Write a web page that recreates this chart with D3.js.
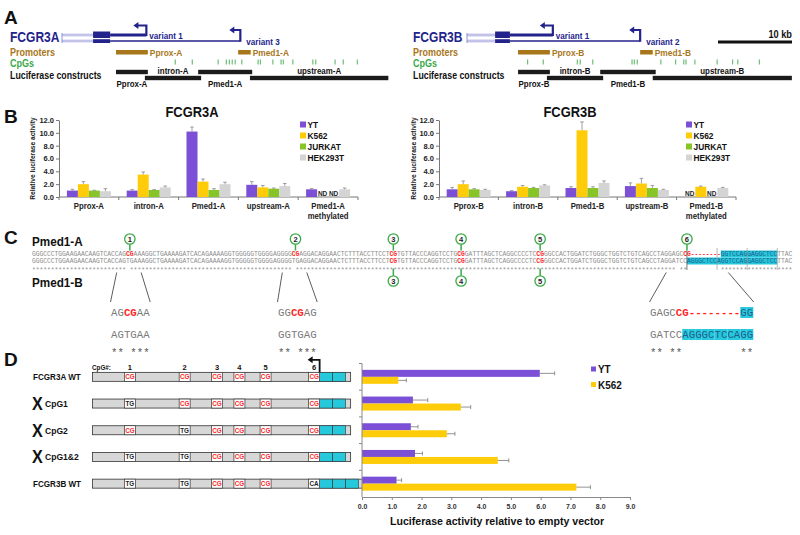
<!DOCTYPE html>
<html><head><meta charset="utf-8">
<script src="https://cdn.jsdelivr.net/npm/d3@7"></script>
<style>
body{margin:0;background:#fff}
svg{display:block}
text{font-family:"Liberation Sans",Arial,sans-serif}
.mono{font-family:"Liberation Mono","Courier New",monospace}
</style>
</head><body>
<svg id="c" width="800" height="535"></svg>
<script>
// ================= DATA =================
// Panel A (genomic positions in kb from the left end of each gene drawing)
const geneNames = ["FCGR3A", "FCGR3B"];
const exonKbA = [4.2, 6.5], exonKbB = [3.8, 5.8];
const tssKbA = [11.4, 24.1], tssKbB = [11.6, 23.4];
const variantNamesA = ["variant 1", "variant 3"], variantNamesB = ["variant 1", "variant 2"];
const promoterNamesA = ["Pprox-A", "Pmed1-A"], promoterNamesB = ["Pprox-B", "Pmed1-B"];
const promoterKbA = [[7.3, 11.6], [23.8, 25.5]], promoterKbB = [[6.9, 11.2], [23.4, 25.1]];
const cpgKbA = [15.3, 17.6, 21.1, 22.2, 22.6, 23.0, 23.4, 24.3, 26.5, 26.8, 28.5, 29.6, 29.9, 31.2, 33.9, 34.3, 36.9, 38.0, 39.9];
const cpgKbB = [8.2, 10.3, 14.9, 15.3, 17.0, 22.3, 22.6, 23.0, 26.2, 28.2, 29.3, 29.6, 30.8, 33.8, 35.9, 36.6, 39.5];
const constructNamesA = ["Pprox-A", "intron-A", "Pmed1-A", "upstream-A"];
const constructNamesB = ["Pprox-B", "intron-B", "Pmed1-B", "upstream-B"];
const constructKbA = [[7.3, 11.6], [11.2, 18.8], [18.4, 25.7], [25.4, 44.1]];
const constructKbB = [[6.9, 11.2], [10.8, 18.4], [18.0, 25.5], [25.1, 43.9]];
const scaleBarKb = 10;

// Panel B
const cellLines = ["YT", "K562", "JURKAT", "HEK293T"];
const catsA = ["Pprox-A", "intron-A", "Pmed1-A", "upstream-A", "Pmed1-A methylated"];
const catsB = ["Pprox-B", "intron-B", "Pmed1-B", "upstream-B", "Pmed1-B methylated"];
const ytA = [1.0, 1.0, 10.2, 1.9, 1.2],     ytAErr = [0.2, 0.15, 0.7, 0.5, 0.1];
const k562A = [2.0, 3.5, 2.4, 1.5, null],   k562AErr = [0.4, 0.4, 0.4, 0.3, null];
const jurkatA = [1.0, 1.1, 1.1, 1.3, null], jurkatAErr = [0.05, 0.05, 0.2, 0.1, null];
const hekA = [0.9, 1.5, 2.0, 1.7, 1.2],     hekAErr = [0.4, 0.2, 0.3, 0.4, 0.2];
const ytB = [1.2, 0.9, 1.4, 1.7, null],     ytBErr = [0.3, 0.1, 0.2, 0.5, null];
const k562B = [2.0, 1.6, 10.4, 2.1, 1.6],   k562BErr = [0.5, 0.2, 1.3, 0.8, 0.1];
const jurkatB = [1.2, 1.4, 1.4, 1.4, null], jurkatBErr = [0.1, 0.1, 0.2, 0.4, null];
const hekB = [1.1, 1.8, 2.2, 1.1, 1.4],     hekBErr = [0.1, 0.1, 0.3, 0.1, 0.1];
const yTicksB = [0, 2, 4, 6, 8, 10, 12];

// Panel C sequences (aligned)
const seqA = "GGGCCCTGGAAGAACAAGTCACCAG" + "CG" + "AAAGGCTGAAAAGATCACAGAAAAGGTGGGGGTGGGGAGGGG" + "CG" +
  "AGGACAGGAACTCTTTACCTTCCT" + "CG" + "TGTTACCCAGGTCCTG" + "CG" + "GATTTAGCTCAGGCCCCTC" + "CG" +
  "GGCCACTGGATCTGGGCTGGTCTGTCAGCCTAGGAGC" + "CG" + "--------" + "GGTCCAGGAGGCTCC" + "TTAC";
const seqB = "GGGCCCTGGAAGAACAAGTCACCAG" + "TG" + "AAAGGCTGAAAAGATCACAGAAAAGGTGGGGGTGGGGAGGGG" + "TG" +
  "AGGACAGGAACTCTTTACCTTCCT" + "CG" + "TGTTACCCAGGTCCTG" + "CG" + "GATTTAGCTCAGGCCCCTC" + "CG" +
  "GGCCACTGGATCTGGGCTGGTCTGTCAGCCTAGGATC" + "C" + "AGGGCTCCAGGTCCAGGAGGCTCC" + "TTAC";
const cpgIndex = [25, 69, 95, 113, 134, 173];
const cpgNumbers = [1, 2, 3, 4, 5, 6];
const cpgSharedB = [3, 4, 5];
const dashRangeA = [175, 183];
const cyanRangeA = [183, 198], cyanRangeB = [174, 198];
const repeatBounds = [182, 190, 198];
const detailSlices = [[23, 29], [67, 73], [169, 185]];

// Panel D
const constructsD = ["FCGR3A WT", "CpG1", "CpG2", "CpG1&2", "FCGR3B WT"];
const mutatedD = [false, true, true, true, false];
const dinucD = [
  ["CG", "CG", "CG", "CG", "CG", "CG"],
  ["TG", "CG", "CG", "CG", "CG", "CG"],
  ["CG", "TG", "CG", "CG", "CG", "CG"],
  ["TG", "TG", "CG", "CG", "CG", "CG"],
  ["TG", "TG", "CG", "CG", "CG", "CA"]];
const repeatsD = [2, 2, 2, 2, 3];
const seriesD = ["YT", "K562"];
const ytD = [5.97, 1.71, 1.64, 1.78, 1.16],   ytDErr = [0.5, 0.5, 0.24, 0.25, 0.17];
const k562D = [1.22, 3.32, 2.85, 4.56, 7.2],  k562DErr = [0.27, 0.33, 0.27, 0.37, 0.47];
const xTicksD = [0, 1, 2, 3, 4, 5, 6, 7, 8, 9];

// ================= STYLE =================
const NAVY = "#23238c", LIGHT = "#a3a3dd", BROWN = "#a8761b", GREEN = "#3aaa48",
      CYAN = "#26c8dc", RED = "#ff2525", GRAYTXT = "#8c8c8c";
const colorOf = {YT: "#7b4fd6", K562: "#ffcc0a", JURKAT: "#86c427", HEK293T: "#d4d4d4"};

const svg = d3.select("#c");

function txt(g, x, y, s, o = {}) {
  const t = g.append("text").attr("x", x).attr("y", y).text(s)
    .attr("font-size", o.size || 10).attr("font-weight", o.weight || "bold")
    .attr("fill", o.fill || "#111").attr("text-anchor", o.anchor || "start");
  if (o.cls) t.attr("class", o.cls);
  if (o.squeeze) {
    const L = t.node().getComputedTextLength();
    t.attr("textLength", L * o.squeeze).attr("lengthAdjust", "spacingAndGlyphs");
  }
  return t;
}

// panel letters
txt(svg, 4, 24, "A", {size: 19});
txt(svg, 4, 123, "B", {size: 19});
txt(svg, 4, 244, "C", {size: 19});
txt(svg, 4, 366, "D", {size: 19});

// ================= PANEL A =================
const kb = d3.scaleLinear().domain([0, 10]).range([0, 74]);

function drawGene(x0, labelX, name, exonKb, tssKb, variantNames, promoterKb, promoterNames, cpgKb, constructKb, constructNames) {
  const g = svg.append("g");
  const X = d => x0 + kb(d);
  txt(g, labelX, 42, name, {size: 14, fill: NAVY, squeeze: 0.86});
  txt(g, labelX, 56, "Promoters", {size: 10, fill: BROWN, weight: 600, squeeze: 0.9});
  txt(g, labelX, 67, "CpGs", {size: 10, fill: GREEN, weight: 600, squeeze: 0.9});
  txt(g, labelX, 79, "Luciferase constructs", {size: 10, fill: "#111", weight: 600, squeeze: 0.88});

  // thin (light) 3' end lines
  [35, 41].forEach(y => {
    g.append("line").attr("x1", X(0)).attr("x2", X(exonKb[0]) + 1).attr("y1", y).attr("y2", y)
      .attr("stroke", LIGHT).attr("stroke-width", 2.6);
    g.append("line").attr("x1", X(0) + 1).attr("x2", X(exonKb[0]) + 1).attr("y1", y).attr("y2", y)
      .attr("stroke", "#fff").attr("stroke-width", 0.7);
  });
  g.append("line").attr("x1", X(0)).attr("x2", X(0)).attr("y1", 33).attr("y2", 43)
    .attr("stroke", LIGHT).attr("stroke-width", 1.2);
  // exons
  g.append("rect").attr("x", X(exonKb[0])).attr("width", X(exonKb[1]) - X(exonKb[0]))
    .attr("y", 31.5).attr("height", 6.5).attr("fill", NAVY);
  g.append("rect").attr("x", X(exonKb[0])).attr("width", X(exonKb[1]) - X(exonKb[0]))
    .attr("y", 39.2).attr("height", 3.8).attr("fill", NAVY);
  // transcripts
  g.append("line").attr("x1", X(exonKb[1])).attr("x2", X(tssKb[0])).attr("y1", 35).attr("y2", 35)
    .attr("stroke", NAVY).attr("stroke-width", 3);
  g.append("line").attr("x1", X(exonKb[1])).attr("x2", X(tssKb[1])).attr("y1", 41).attr("y2", 41)
    .attr("stroke", NAVY).attr("stroke-width", 1.5);
  // TSS arrows
  const arrow = (x, yb, yt, len) => {
    g.append("path").attr("d", `M${x},${yb}V${yt}H${x - len + 4}`)
      .attr("fill", "none").attr("stroke", NAVY).attr("stroke-width", 2.2);
    g.append("path").attr("d", `M${x - len},${yt}L${x - len + 5},${yt - 3.5}L${x - len + 5},${yt + 3.5}Z`)
      .attr("fill", NAVY);
  };
  arrow(X(tssKb[0]), 36, 25.5, 13);
  arrow(X(tssKb[1]), 41.7, 30, 11);
  txt(g, X(tssKb[0]) + 3, 38.5, variantNames[0], {size: 9, fill: NAVY, squeeze: 0.9});
  txt(g, X(tssKb[1]) + 6, 44.5, variantNames[1], {size: 9, fill: NAVY, squeeze: 0.9});
  // promoters
  promoterKb.forEach((p, i) => {
    g.append("rect").attr("x", X(p[0])).attr("width", X(p[1]) - X(p[0])).attr("y", 50).attr("height", 4.5).attr("fill", BROWN);
    txt(g, X(p[1]) + 2, 56, promoterNames[i], {size: 9.5, fill: BROWN, weight: 600, squeeze: 0.88});
  });
  // CpGs
  g.selectAll("line.cpg").data(cpgKb).join("line").attr("class", "cpg")
    .attr("x1", d => X(d)).attr("x2", d => X(d)).attr("y1", 59.5).attr("y2", 64.5)
    .attr("stroke", GREEN).attr("stroke-width", 0.9);
  // constructs
  constructKb.forEach((c, i) => {
    const lvl = i % 2;
    g.append("rect").attr("x", X(c[0])).attr("width", X(c[1]) - X(c[0]))
      .attr("y", lvl ? 75.8 : 69.8).attr("height", 4.4).attr("fill", "#1b1b1b");
    txt(g, (X(c[0]) + X(c[1])) / 2, lvl ? 73.5 : 87, constructNames[i], {size: 9, weight: 600, anchor: "middle", squeeze: 0.88});
  });
}
drawGene(62, 10, geneNames[0], exonKbA, tssKbA, variantNamesA, promoterKbA, promoterNamesA, cpgKbA, constructKbA, constructNamesA);
drawGene(467, 413, geneNames[1], exonKbB, tssKbB, variantNamesB, promoterKbB, promoterNamesB, cpgKbB, constructKbB, constructNamesB);
// scale bar
svg.append("rect").attr("x", 792 - kb(scaleBarKb)).attr("width", kb(scaleBarKb)).attr("y", 40.5).attr("height", 3).attr("fill", "#111");
txt(svg, 792, 37.5, scaleBarKb + " kb", {size: 10, anchor: "end", squeeze: 0.92});

// ================= PANEL B =================
function drawB(range, title, titleX, cats, vals, errs, legendX, axisLabelX) {
  const g = svg.append("g");
  const x = d3.scaleBand().domain(cats).range(range).paddingInner(0).paddingOuter(0);
  const xs = d3.scaleBand().domain(cellLines).range([0, 44]);
  const off = (x.bandwidth() - 44) / 2;
  const y = d3.scaleLinear().domain([0, 12]).range([197, 120]);
  txt(g, titleX, 117, title, {size: 15, anchor: "middle", squeeze: 0.86});
  // y axis
  const ya = g.append("g").attr("transform", `translate(${range[0]},0)`)
    .call(d3.axisLeft(y).tickValues(yTicksB).tickFormat(d3.format(".1f")).tickSize(3).tickSizeOuter(0));
  ya.select(".domain").attr("stroke", "#777");
  ya.selectAll(".tick line").attr("stroke", "#777");
  ya.selectAll("text").attr("font-size", 7.5).attr("font-weight", "bold").attr("fill", "#222")
    .attr("font-family", "Liberation Sans, Arial, sans-serif").attr("dx", 1);
  g.append("text").attr("transform", `translate(${axisLabelX},158.5) rotate(-90)`)
    .attr("text-anchor", "middle").attr("font-size", 6.6).attr("font-weight", "bold").attr("fill", "#222")
    .text("Relative luciferase activity");
  // x axis
  g.append("line").attr("x1", range[0]).attr("x2", range[1]).attr("y1", 197).attr("y2", 197).attr("stroke", "#777");
  cats.concat([null]).forEach((c, i) => {
    const xx = c === null ? range[1] : x(c);
    g.append("line").attr("x1", xx).attr("x2", xx).attr("y1", 197).attr("y2", 200).attr("stroke", "#777");
  });
  cats.forEach(c => {
    const parts = c.split(" ");
    parts.forEach((p, k) => txt(g, x(c) + x.bandwidth() / 2, 209 + k * 9.5, p, {size: 8.8, anchor: "middle", fill: "#222", squeeze: 0.88}));
  });
  // bars
  cellLines.forEach((cl, si) => {
    cats.forEach((c, ci) => {
      const v = vals[si][ci], e = errs[si][ci];
      const bx = x(c) + off + xs(cl), bw = xs.bandwidth();
      if (v === null) {
        txt(g, bx + bw / 2, 195.5, "ND", {size: 6.5, anchor: "middle", fill: "#222"});
        return;
      }
      g.append("rect").attr("x", bx).attr("width", bw).attr("y", y(v)).attr("height", y(0) - y(v)).attr("fill", colorOf[cl]);
      const cx = bx + bw / 2;
      g.append("line").attr("x1", cx).attr("x2", cx).attr("y1", y(v)).attr("y2", y(v + e)).attr("stroke", "#888").attr("stroke-width", 0.8);
      g.append("line").attr("x1", cx - 1.8).attr("x2", cx + 1.8).attr("y1", y(v + e)).attr("y2", y(v + e)).attr("stroke", "#888").attr("stroke-width", 0.8);
    });
  });
  // legend
  cellLines.forEach((cl, i) => {
    const ly = 124.5 + i * 11;
    g.append("rect").attr("x", legendX).attr("y", ly - 3).attr("width", 6).attr("height", 6).attr("fill", colorOf[cl]);
    txt(g, legendX + 7.5, ly + 3.5, cl, {size: 9.5, fill: "#111", squeeze: 0.88});
  });
}
drawB([59, 358], "FCGR3A", 192, catsA, [ytA, k562A, jurkatA, hekA], [ytAErr, k562AErr, jurkatAErr, hekAErr], 300, 35);
drawB([439, 736], "FCGR3B", 570, catsB, [ytB, k562B, jurkatB, hekB], [ytBErr, k562BErr, jurkatBErr, hekBErr], 686, 416);

// ================= PANEL C =================
(function () {
  const g = svg.append("g");
  const x0 = 32, cw = 3.764;
  const cx = i => x0 + (i + 0.5) * cw;
  txt(g, 32, 246, "Pmed1-A", {size: 13, squeeze: 0.9});
  txt(g, 32, 287, "Pmed1-B", {size: 13, squeeze: 0.9});
  const redA = new Set(), redB = new Set();
  cpgIndex.forEach((s, k) => { redA.add(s); redA.add(s + 1); if (cpgSharedB.includes(cpgNumbers[k])) { redB.add(s); redB.add(s + 1); } });
  for (let i = dashRangeA[0]; i < dashRangeA[1]; i++) redA.add(i);
  const inR = (i, r) => i >= r[0] && i < r[1];
  // cyan backgrounds
  g.append("rect").attr("x", x0 + cyanRangeA[0] * cw).attr("width", (cyanRangeA[1] - cyanRangeA[0]) * cw)
    .attr("y", 250.5).attr("height", 7).attr("fill", CYAN);
  g.append("rect").attr("x", x0 + cyanRangeB[0] * cw).attr("width", (cyanRangeB[1] - cyanRangeB[0]) * cw)
    .attr("y", 257.5).attr("height", 7).attr("fill", CYAN);
  const stars = Array.from(seqA).map((c, i) => (c === seqB[i] && c !== "-") ? "*" : " ").join("");
  const rows = [
    {s: seqA, y: 256.3, red: redA, cyan: cyanRangeA},
    {s: seqB, y: 263.3, red: redB, cyan: cyanRangeB},
    {s: stars, y: 272, red: new Set(), cyan: [0, 0]}];
  rows.forEach(r => {
    const chars = Array.from(r.s).map((c, i) => ({c, i})).filter(d => d.c !== " ");
    g.selectAll(null).data(chars).join("text").attr("class", "mono")
      .attr("x", d => cx(d.i)).attr("y", r.y).attr("text-anchor", "middle")
      .attr("font-size", 6.3)
      .attr("font-weight", d => r.red.has(d.i) ? "bold" : "normal")
      .attr("fill", d => r.red.has(d.i) ? RED : (inR(d.i, r.cyan) ? "#1d5f8c" : GRAYTXT))
      .text(d => d.c);
  });
  // repeat boundaries
  repeatBounds.forEach(b => g.append("line").attr("x1", x0 + b * cw).attr("x2", x0 + b * cw)
    .attr("y1", 248).attr("y2", 270).attr("stroke", "#999").attr("stroke-width", 0.7));
  // CpG circles
  cpgIndex.forEach((s, k) => {
    const xx = x0 + (s + 1) * cw;
    const circ = (cy) => {
      g.append("circle").attr("cx", xx).attr("cy", cy).attr("r", 5.2).attr("fill", "#fff").attr("stroke", GREEN).attr("stroke-width", 1.3);
      txt(g, xx, cy + 2.6, String(cpgNumbers[k]), {size: 7.5, anchor: "middle", weight: "bold", fill: "#222"});
    };
    circ(239);
    g.append("line").attr("x1", xx).attr("x2", xx).attr("y1", 244.3).attr("y2", 250.5).attr("stroke", GREEN).attr("stroke-width", 1.5);
    if (cpgSharedB.includes(cpgNumbers[k])) {
      g.append("line").attr("x1", xx).attr("x2", xx).attr("y1", 268.5).attr("y2", 275.8).attr("stroke", GREEN).attr("stroke-width", 1.5);
      circ(281);
    }
    if (k === cpgIndex.length - 1) {
      g.append("line").attr("x1", xx).attr("x2", xx).attr("y1", 250.5).attr("y2", 270).attr("stroke", "#555").attr("stroke-width", 0.8);
    }
  });
  // detail zooms
  const dStart = [111, 278, 650], dw = 6.45;
  detailSlices.forEach((sl, k) => {
    const xs = dStart[k];
    const n = sl[1] - sl[0];
    g.append("line").attr("x1", x0 + (sl[0] - 0.5) * cw).attr("y1", 272.5).attr("x2", xs - 0.5).attr("y2", 302).attr("stroke", "#333").attr("stroke-width", 0.8);
    g.append("line").attr("x1", x0 + sl[1] * cw).attr("y1", 272.5).attr("x2", xs + n * dw + 0.5).attr("y2", 302).attr("stroke", "#333").attr("stroke-width", 0.8);
    const drows = [
      {s: seqA, y: 316, red: redA, cyan: cyanRangeA},
      {s: seqB, y: 338, red: redB, cyan: cyanRangeB},
      {s: stars, y: 356, red: new Set(), cyan: [0, 0]}];
    drows.forEach((r, ri) => {
      const items = [];
      for (let i = sl[0]; i < sl[1]; i++) items.push({c: r.s[i], i, j: i - sl[0]});
      items.forEach(d => {
        if (inR(d.i, r.cyan)) g.append("rect").attr("x", xs + d.j * dw).attr("width", dw + 0.1).attr("y", r.y - 9).attr("height", 11).attr("fill", CYAN);
      });
      g.selectAll(null).data(items.filter(d => d.c !== " ")).join("text").attr("class", "mono")
        .attr("x", d => xs + (d.j + 0.5) * dw).attr("y", r.y).attr("text-anchor", "middle")
        .attr("font-size", 10.7)
        .attr("font-weight", d => r.red.has(d.i) ? "bold" : "normal")
        .attr("fill", d => r.red.has(d.i) ? RED : (inR(d.i, r.cyan) ? "#1d5f8c" : (ri === 2 ? "#555" : "#7a7a7a")))
        .text(d => d.c);
    });
  });
})();

// ================= PANEL D =================
(function () {
  const g = svg.append("g");
  const yD = d3.scaleBand().domain(constructsD).range([363.5, 497]);
  const xD = d3.scaleLinear().domain([0, 9]).range([362, 630]);
  const sx = d3.scaleLinear().domain([0, 202]).range([97.5, 97.5 + 1.245 * 202]); // schematic: sequence index -> x
  const bh = 7;
  // schematic header
  txt(g, 92, 370, "CpG#:", {size: 7, squeeze: 0.9});
  cpgIndex.forEach((s, k) => txt(g, sx(s + 1), 370, String(cpgNumbers[k]), {size: 7.5, anchor: "middle"}));
  constructsD.forEach((c, r) => {
    const cy = yD(c) + yD.bandwidth() / 2;
    const left = sx(-4), cyanStart = sx(cpgIndex[5] + 1) + 5.5;
    const cellW = 13;
    const end = cyanStart + repeatsD[r] * cellW + 5;
    g.append("rect").attr("x", left).attr("width", end - left).attr("y", cy - 4.5).attr("height", 9)
      .attr("fill", "#d7d7d7").attr("stroke", "#333").attr("stroke-width", 0.8);
    for (let k = 0; k < repeatsD[r]; k++) {
      g.append("rect").attr("x", cyanStart + k * cellW).attr("width", cellW).attr("y", cy - 4.5).attr("height", 9)
        .attr("fill", CYAN).attr("stroke", "#333").attr("stroke-width", 0.6);
    }
    dinucD[r].forEach((d, k) => {
      const bx = sx(cpgIndex[k] + 1);
      g.append("rect").attr("x", bx - 5.5).attr("width", 11).attr("y", cy - 4.5).attr("height", 9)
        .attr("fill", "#fff").attr("stroke", "#333").attr("stroke-width", 0.7);
      txt(g, bx, cy + 2.3, d, {size: 6.3, anchor: "middle", fill: d === "CG" ? RED : "#222"});
    });
    if (mutatedD[r]) {
      txt(g, 32, cy + 6.5, "X", {size: 19, fill: "#111", squeeze: 0.85});
      txt(g, 45, cy + 3.5, c, {size: 9.5, squeeze: 0.9});
    } else {
      txt(g, 33, cy + 3.5, c, {size: 9.2, squeeze: 0.88});
    }
  });
  // TSS arrow
  const ax = sx(cpgIndex[5] + 1) + 5.5, ay = yD(constructsD[0]) + yD.bandwidth() / 2 - 4.5;
  g.append("path").attr("d", `M${ax},${ay}V${ay - 12.5}H${ax - 8}`).attr("fill", "none").attr("stroke", "#111").attr("stroke-width", 1.8);
  g.append("path").attr("d", `M${ax - 12},${ay - 12.5}L${ax - 7},${ay - 16}L${ax - 7},${ay - 9}Z`).attr("fill", "#111");

  // bar chart
  const vals = [ytD, k562D], errs = [ytDErr, k562DErr];
  seriesD.forEach((s, si) => {
    constructsD.forEach((c, ci) => {
      const cy = yD(c) + yD.bandwidth() / 2;
      const by = si === 0 ? cy - bh : cy;
      const v = vals[si][ci], e = errs[si][ci];
      g.append("rect").attr("x", xD(0)).attr("width", xD(v) - xD(0)).attr("y", by).attr("height", bh).attr("fill", colorOf[s]);
      const my = by + bh / 2;
      g.append("line").attr("x1", xD(v)).attr("x2", xD(v + e)).attr("y1", my).attr("y2", my).attr("stroke", "#777").attr("stroke-width", 0.8);
      g.append("line").attr("x1", xD(v + e)).attr("x2", xD(v + e)).attr("y1", my - 2).attr("y2", my + 2).attr("stroke", "#777").attr("stroke-width", 0.8);
    });
  });
  // y axis
  g.append("line").attr("x1", 362).attr("x2", 362).attr("y1", 363.5).attr("y2", 497).attr("stroke", "#888");
  constructsD.forEach(c => g.append("line").attr("x1", 359).attr("x2", 362).attr("y1", yD(c)).attr("y2", yD(c)).attr("stroke", "#888"));
  // x axis
  const xa = g.append("g").attr("transform", "translate(0,497)")
    .call(d3.axisBottom(xD).tickValues(xTicksD).tickFormat(d3.format(".1f")).tickSize(3).tickSizeOuter(0));
  xa.select(".domain").attr("stroke", "#888");
  xa.selectAll(".tick line").attr("stroke", "#888");
  xa.selectAll("text").attr("font-size", 7).attr("font-weight", "bold").attr("fill", "#333")
    .attr("font-family", "Liberation Sans, Arial, sans-serif").attr("dy", "0.9em");
  const t = txt(g, 497, 525, "Luciferase activity relative to empty vector", {size: 11.5, anchor: "middle"});
  t.attr("textLength", 214).attr("lengthAdjust", "spacingAndGlyphs");
  // legend
  seriesD.forEach((s, i) => {
    const ly = 369 + i * 15.5;
    g.append("rect").attr("x", 591).attr("y", ly - 2.5).attr("width", 5).attr("height", 5).attr("fill", colorOf[s]);
    txt(g, 598, ly + 4, s, {size: 11, squeeze: 0.9});
  });
})();
</script>
</body></html>
